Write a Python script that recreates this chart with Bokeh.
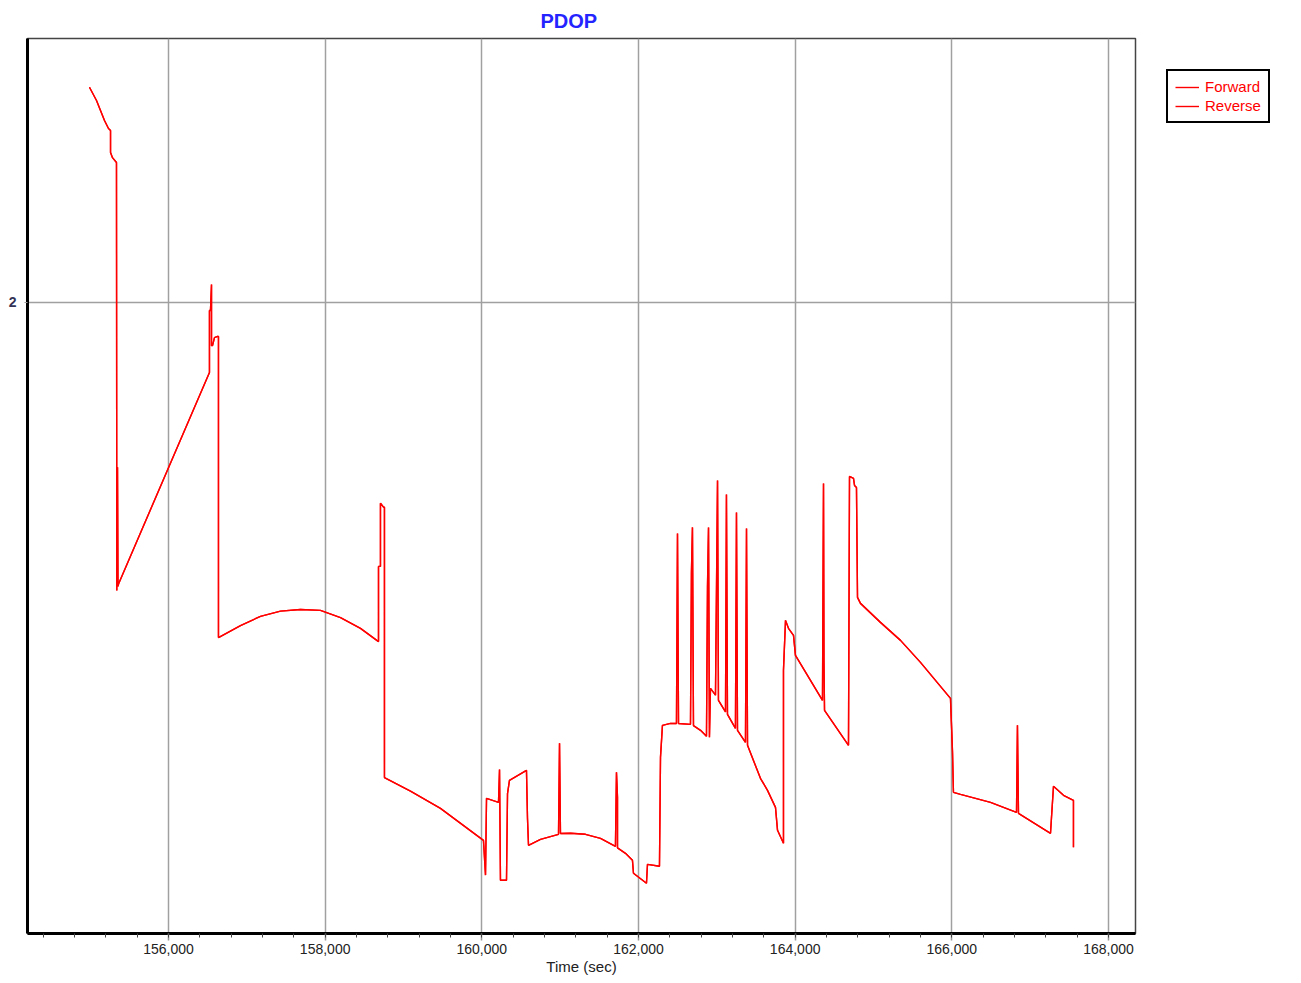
from bokeh.plotting import figure
from bokeh.models import (Range1d, FixedTicker, NumeralTickFormatter, Legend, LegendItem)
from bokeh.embed import file_html
from bokeh.resources import INLINE

# Time (sec) and PDOP values
time_s = [154991, 155081, 155132, 155183, 155234, 155260, 155260, 155285, 155336,
          155340, 155349, 155355, 155362, 156523, 156523, 156536, 156549, 156549,
          156562, 156587, 156626, 156638, 156638, 156919, 157174, 157430, 157685,
          157940, 158196, 158451, 158681, 158681, 158706, 158706, 158745, 158757,
          158757, 159089, 159472, 160021, 160047, 160060, 160213, 160226, 160238,
          160315, 160328, 160353, 160570, 160583, 160596, 160749, 160979, 160992,
          161004, 161132, 161323, 161515, 161706, 161719, 161732, 161732, 161834,
          161923, 161936, 162102, 162115, 162268, 162281, 162306, 162409, 162485,
          162498, 162511, 162664, 162676, 162689, 162702, 162792, 162868, 162881,
          162894, 162906, 162919, 162983, 163009, 163021, 163111, 163123, 163136,
          163238, 163251, 163264, 163366, 163379, 163392, 163557, 163647, 163749,
          163775, 163851, 163851, 163877, 163915, 163979, 164004, 164349, 164362,
          164368, 164375, 164681, 164694, 164745, 164758, 164783, 164796, 164834,
          165089, 165345, 165600, 165983, 166009, 166021, 166111, 166494, 166826,
          166838, 166851, 167260, 167272, 167298, 167426, 167553, 167553]

pdop_forward = [2.269, 2.2525, 2.240, 2.2275, 2.2175, 2.215, 2.1875, 2.181, 2.175,
                1.640, 1.794, 1.645, 1.648, 1.9125, 1.990, 1.990, 2.0225, 1.946,
                1.946, 1.956, 1.9575, 1.9575, 1.581, 1.596, 1.6075, 1.614, 1.616,
                1.615, 1.606, 1.5925, 1.576, 1.670, 1.670, 1.749, 1.744, 1.744,
                1.406, 1.389, 1.3675, 1.3275, 1.284, 1.380, 1.375, 1.416, 1.2775,
                1.2775, 1.386, 1.4025, 1.415, 1.355, 1.32125, 1.32875, 1.335, 1.44875,
                1.336, 1.33625, 1.335, 1.330, 1.320, 1.4125, 1.38125, 1.318, 1.31125,
                1.3025, 1.28625, 1.27375, 1.2975, 1.295, 1.43125, 1.47125, 1.47375, 1.4735,
                1.71125, 1.4735, 1.4725, 1.6625, 1.71875, 1.471, 1.465, 1.4575, 1.64375,
                1.71875, 1.45625, 1.5175, 1.509, 1.7775, 1.5025, 1.488, 1.760, 1.485,
                1.4675, 1.7375, 1.465, 1.450, 1.7175, 1.44625, 1.405, 1.390, 1.36875,
                1.340, 1.32375, 1.540, 1.6025, 1.5925, 1.58375, 1.55875, 1.5025, 1.77375,
                1.550, 1.490, 1.44625, 1.7825, 1.780, 1.77125, 1.76875, 1.63125, 1.62375,
                1.600, 1.5775, 1.550, 1.505, 1.4375, 1.3875, 1.385, 1.375, 1.3625,
                1.47125, 1.36125, 1.33625, 1.355, 1.395, 1.38375, 1.3775, 1.31875]

# Reverse solution lies exactly under the forward one in the picture
pdop_reverse = list(pdop_forward)

x_ticks = [156000, 158000, 160000, 162000, 164000, 166000, 168000]
y_ticks = [2]

p = figure(frame_width=1108, frame_height=895,
           x_range=Range1d(154200, 168345), y_range=Range1d(1.211, 2.330),
           output_backend="svg", toolbar_location=None,
           min_border_left=27, min_border_top=38, min_border_right=150,
           min_border_bottom=46, title="PDOP")

p.title.text_color = "#2424ff"
p.title.text_font = "Liberation Sans"
p.title.text_font_size = "20px"
p.title.text_font_style = "bold"
p.title.align = "left"
p.title.offset = 513
p.title.standoff = 14

p.outline_line_color = "#444444"
p.outline_line_width = 1.5
p.background_fill_color = "white"
p.border_fill_color = "white"

r_rev = p.line(time_s, pdop_reverse, line_color="#ff0000", line_width=1.4)
r_fwd = p.line(time_s, pdop_forward, line_color="#ff0000", line_width=1.4)

xa = p.xaxis[0]
xa.ticker = FixedTicker(ticks=x_ticks,
                        minor_ticks=[154400 + 400 * i for i in range(35)])
xa.formatter = NumeralTickFormatter(format="0,0")
xa.axis_label = "Time (sec)"
xa.axis_label_text_font = "Liberation Sans"
xa.axis_label_text_font_size = "15px"
xa.axis_label_text_font_style = "normal"
xa.axis_label_text_color = "#222222"
xa.axis_label_standoff = 1
xa.major_label_text_font = "Liberation Sans"
xa.major_label_text_font_size = "14px"
xa.major_label_text_color = "#222222"
xa.major_label_standoff = 3
xa.axis_line_color = "black"
xa.axis_line_width = 3
xa.major_tick_line_color = "#999999"
xa.major_tick_line_width = 1.5
xa.major_tick_out = 7
xa.major_tick_in = 0
xa.minor_tick_line_color = "#444444"
xa.minor_tick_out = 4
xa.minor_tick_in = 0

ya = p.yaxis[0]
ya.ticker = FixedTicker(ticks=y_ticks)
ya.major_label_text_font = "Liberation Sans"
ya.major_label_text_font_size = "14px"
ya.major_label_text_font_style = "bold"
ya.major_label_text_color = "#333355"
ya.major_label_standoff = 8
ya.axis_line_color = "black"
ya.axis_line_width = 3
ya.major_tick_line_color = "#999999"
ya.major_tick_out = 3
ya.major_tick_in = 0
ya.minor_tick_line_color = None

p.xgrid.ticker = FixedTicker(ticks=x_ticks)
p.ygrid.ticker = FixedTicker(ticks=y_ticks)
for g in (p.xgrid[0], p.ygrid[0]):
    g.grid_line_color = "#a0a0a0"
    g.grid_line_width = 1.5

legend = Legend(items=[LegendItem(label="Forward", renderers=[r_fwd]),
                       LegendItem(label="Reverse", renderers=[r_rev])],
                location="top_left")
legend.border_line_color = "black"
legend.border_line_alpha = 1
legend.border_line_width = 2
legend.label_text_color = "#ff0000"
legend.label_text_font = "Liberation Sans"
legend.label_text_font_size = "15px"
legend.glyph_width = 24
legend.glyph_height = 16
legend.label_height = 16
legend.label_standoff = 6
legend.spacing = 2
legend.padding = 7
legend.margin = 31
legend.background_fill_color = "white"
legend.background_fill_alpha = 1
p.add_layout(legend, "right")

open("out.html", "w").write(file_html(p, INLINE))
